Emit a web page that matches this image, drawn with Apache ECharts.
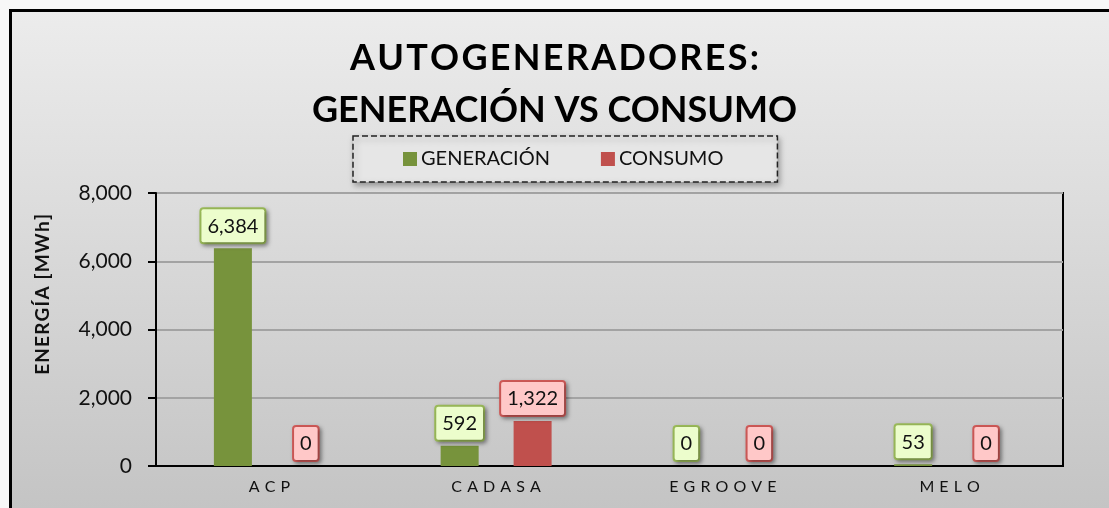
<!DOCTYPE html>
<html>
<head>
<meta charset="utf-8">
<script src="https://cdn.jsdelivr.net/npm/echarts@6/dist/echarts.min.js"></script>
<style>
  html, body { margin: 0; padding: 0; background: #f7f7f7; }
  .frame {
    position: absolute; left: 9px; top: 9px; width: 1110px; height: 510px;
    border-left: 3px solid #000; border-top: 3px solid #000;
    background: linear-gradient(to bottom, #ececec, #c3c3c3);
  }
  #chart { position: absolute; left: 0; top: 0; width: 1109px; height: 508px; }
</style>
</head>
<body>
<div class="frame"></div>
<div id="chart"></div>
<script>
// datos
const categories = ['ACP', 'CADASA', 'EGROOVE', 'MELO']
const generacion = [6384, 592, 0, 53]
const consumo = [0, 1322, 0, 0]
const yTicks = [0, 2000, 4000, 6000, 8000]

const font = 'Lato, "Open Sans", sans-serif'
// el original usa texto espaciado
const spaced = (s, sep) => s.split('').join(sep)

const chart = echarts.init(document.getElementById('chart'), null, { renderer: 'canvas' })

const boxLabel = (bg, border) => ({
  show: true,
  position: 'top',
  distance: 6,
  fontFamily: font,
  fontSize: 20,
  color: '#111',
  backgroundColor: bg,
  borderColor: border,
  borderWidth: 2,
  borderRadius: 2,
  padding: [7, 6, 6, 6],
  shadowBlur: 4,
  shadowColor: 'rgba(0,0,0,0.35)',
  shadowOffsetX: 2,
  shadowOffsetY: 2,
  formatter: p => p.value.toLocaleString('en-US')
})

const option = {
  animation: false,
  title: {
    text: spaced('AUTOGENERADORES:', '\u200A') + '\nGENERACIÓN VS CONSUMO',
    left: 'center',
    top: 27,
    textStyle: {
      fontFamily: font,
      fontWeight: 'bold',
      fontSize: 36,
      lineHeight: 52,
      color: '#000'
    }
  },
  legend: {
    left: 353,
    top: 136,
    padding: [13, 54, 13, 50],
    itemWidth: 14,
    itemHeight: 14,
    itemGap: 51,
    icon: 'rect',
    borderType: 'dashed',
    borderColor: '#222',
    borderWidth: 1.5,
    backgroundColor: '#e6e6e6',
    shadowBlur: 6,
    shadowColor: 'rgba(0,0,0,0.35)',
    shadowOffsetX: 2,
    shadowOffsetY: 3,
    textStyle: { fontFamily: font, fontSize: 20, color: '#111', padding: [0, 0, 0, -1] },
    data: ['GENERACIÓN', 'CONSUMO']
  },
  grid: {
    left: 156,
    top: 193,
    right: 46,
    bottom: 42,
    show: true,
    borderColor: '#000',
    borderWidth: 2,
    backgroundColor: 'transparent'
  },
  xAxis: {
    type: 'category',
    data: categories,
    axisLine: { lineStyle: { color: '#000', width: 2 } },
    axisTick: { show: false },
    axisLabel: {
      margin: 13,
      fontFamily: font,
      fontSize: 16,
      color: '#111',
      formatter: v => spaced(v, ' \u200A')
    }
  },
  yAxis: {
    type: 'value',
    min: yTicks[0],
    max: yTicks[yTicks.length - 1],
    interval: 2000,
    name: spaced('ENERGÍA [MWh]', '\u200A'),
    nameLocation: 'middle',
    nameGap: 104,
    nameTextStyle: { fontFamily: font, fontWeight: 'bold', fontSize: 19, color: '#111', padding: [0, 0, 0, 70] },
    axisLine: { show: true, lineStyle: { color: '#000', width: 2 } },
    axisTick: { show: true, length: 8, lineStyle: { color: '#000', width: 2 } },
    axisLabel: {
      margin: 24,
      fontFamily: font,
      fontSize: 21,
      color: '#111',
      formatter: v => v.toLocaleString('en-US')
    },
    splitLine: { lineStyle: { color: '#a3a3a3', width: 2 } }
  },
  series: [
    {
      name: 'GENERACIÓN',
      type: 'bar',
      data: generacion,
      barWidth: 38,
      barGap: '92%',
      itemStyle: { color: '#77933c' },
      label: boxLabel('#ecfdcc', '#9bbb59')
    },
    {
      name: 'CONSUMO',
      type: 'bar',
      data: consumo,
      barWidth: 38,
      itemStyle: { color: '#c0504d' },
      label: boxLabel('#ffc8c8', '#d05a58')
    }
  ]
}

chart.setOption(option)
</script>
</body>
</html>
